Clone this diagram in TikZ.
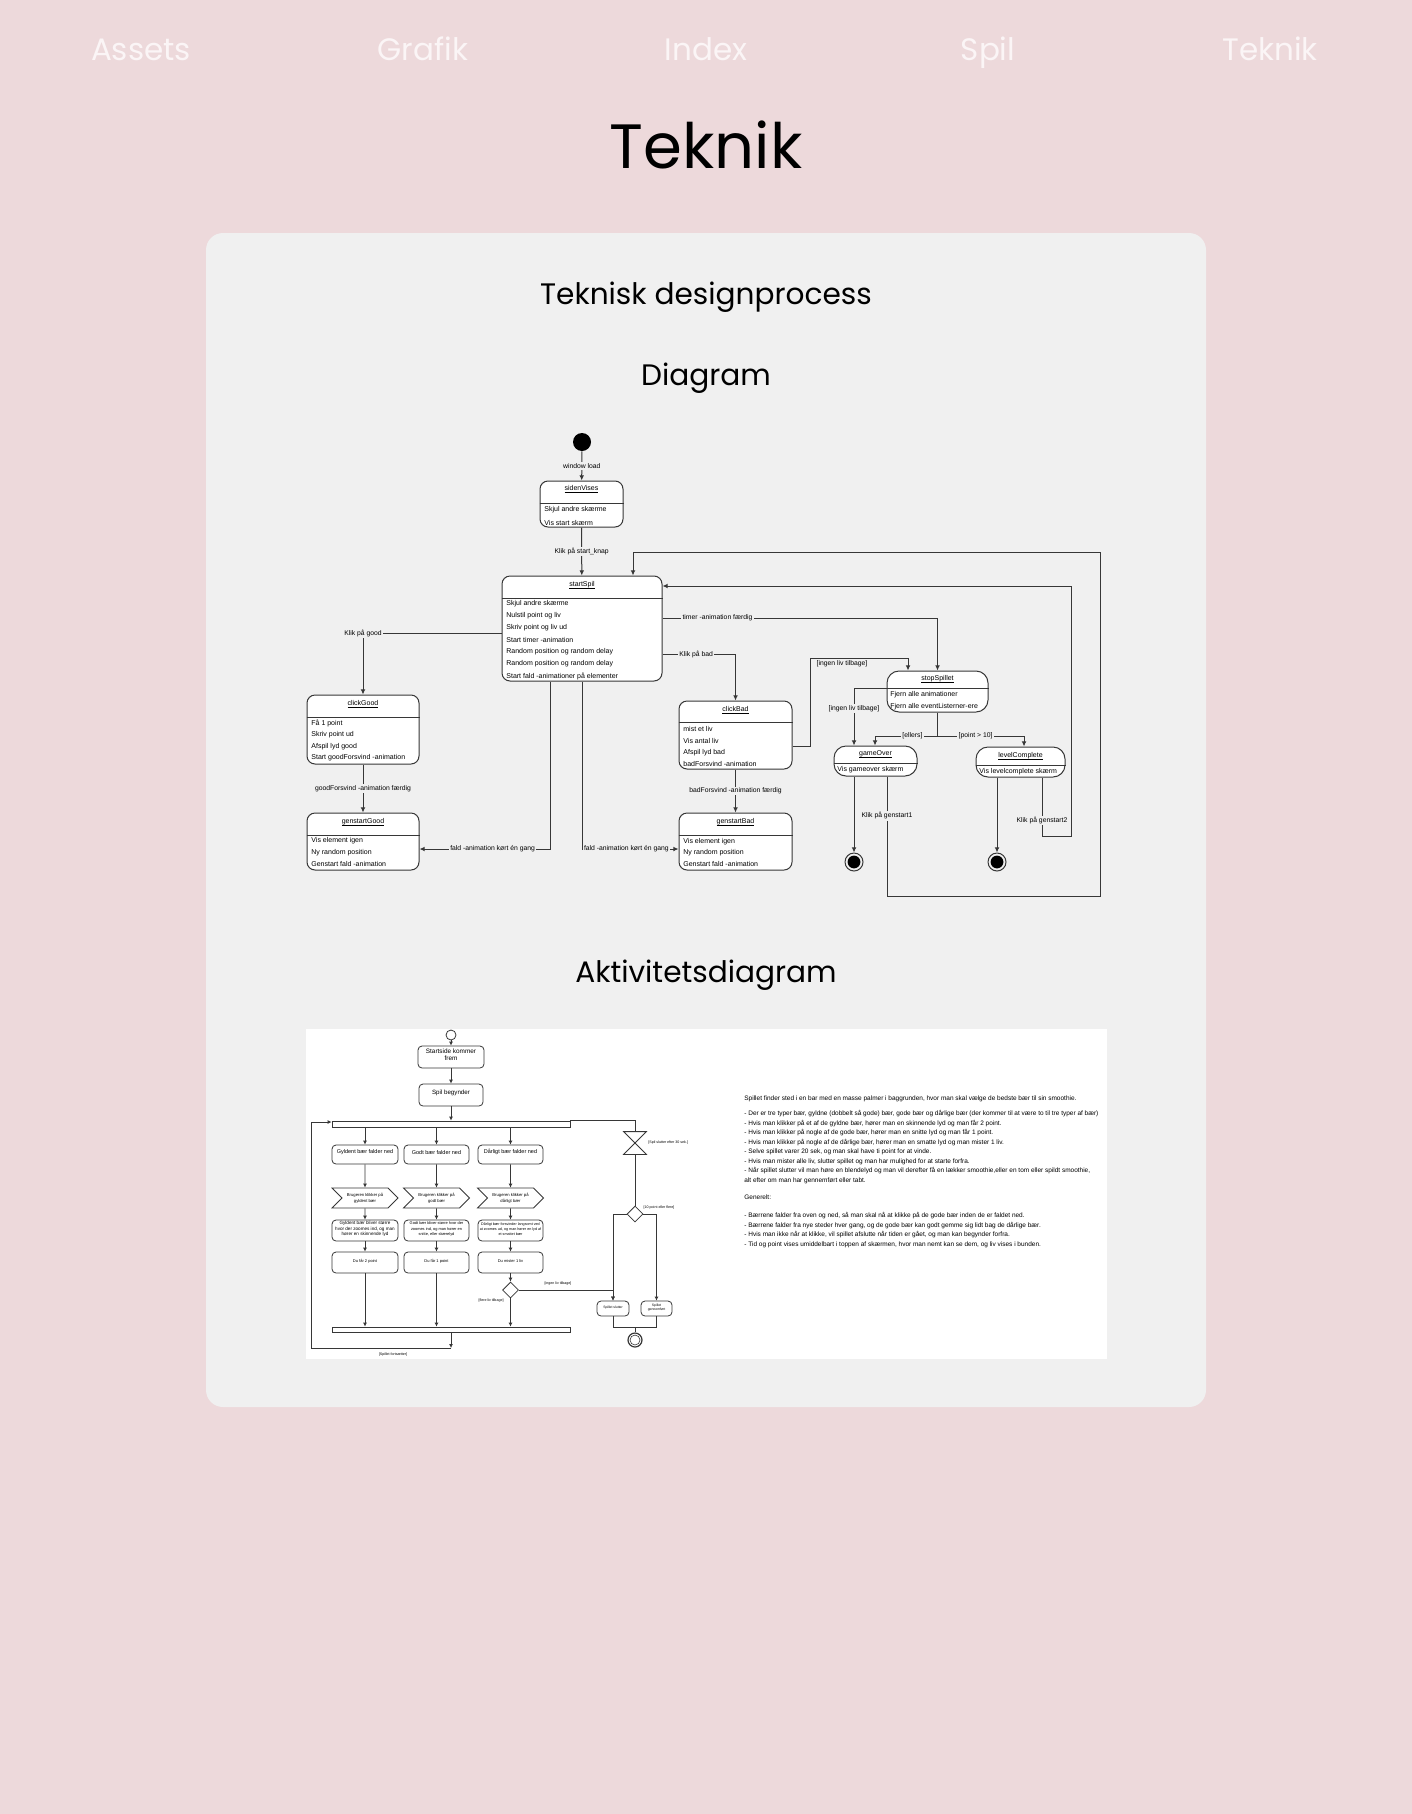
\documentclass[tikz,border=0pt]{standalone}
\usepackage{fontspec}
\setmainfont{Poppins}
\newfontfamily\umlfamily{Liberation Sans}
\usetikzlibrary{arrows.meta,fit,shapes.geometric,shapes.symbols,positioning}

\definecolor{pagebg}{RGB}{237,217,219}
\definecolor{cardbg}{RGB}{240,240,240}
\definecolor{navtext}{RGB}{251,245,246}
\definecolor{umlline}{RGB}{55,55,55}

\newcommand\ulin[1]{\setbox0=\hbox{#1}\rlap{\raisebox{-0.75pt}{\rule{\wd0}{0.22pt}}}\box0}

\tikzset{
  statebox/.style={draw=umlline, fill=white, rounded corners=4pt, inner sep=0pt, line width=0.5pt},
  roundbox/.style={statebox, rounded corners=6pt},
  stitle/.style={inner sep=0pt, font=\umlfamily\fontsize{3.5pt}{4pt}\selectfont},
  sline/.style={anchor=west, inner sep=0pt, font=\umlfamily\fontsize{3.5pt}{4pt}\selectfont},
  flow/.style={draw=umlline, line width=0.5pt, -{Latex[length=2.6pt,width=2.4pt]}},
  lbl/.style={fill=cardbg, inner sep=0.6pt, font=\umlfamily\fontsize{3.4pt}{4pt}\selectfont},
  abox/.style={draw=umlline, fill=white, rounded corners=2pt, inner sep=0pt, line width=0.4pt, align=center},
  aflow/.style={draw=umlline, line width=0.4pt, -{Latex[length=2pt,width=2pt]}},
  aline/.style={draw=umlline, line width=0.4pt},
  albl/.style={inner sep=0pt, font=\umlfamily\fontsize{1.8pt}{2.2pt}\selectfont},
  navitem/.style={anchor=base, text=navtext, font=\fontsize{15.5pt}{18pt}\selectfont},
  heading/.style={anchor=base, font=\fontsize{14.8pt}{18pt}\selectfont},
}

\begin{document}
\begin{tikzpicture}[x=0.5pt,y=-0.5pt]
  % page and card
  \fill[pagebg] (0,0) rectangle (1412,1814);
  \fill[cardbg, rounded corners=8.5pt] (206,233) rectangle (1206,1407);

  % menu
  \node[navitem] (navAssets) at (141,61) {Assets};
  \node[navitem] (navGrafik) at (423,61) {Grafik};
  \node[navitem] (navIndex) at (706,61) {Index};
  \node[navitem] (navSpil) at (988,61) {Spil};
  \node[navitem] (navTeknik) at (1270,61) {Teknik};

  \node[anchor=base, font=\fontsize{31.3pt}{36pt}\selectfont] (pageTitle) at (706,169) {Teknik};
  \node[heading] (hProcess) at (706,304) {Teknisk designprocess};
  \node[heading] (hDiagram) at (706,385) {Diagram};
  \node[heading] (hActivity) at (706,982) {Aktivitetsdiagram};

  % state diagram
  \node[circle, fill=black, minimum size=9pt, inner sep=0pt] (start) at (582,442) {};

  \node[statebox, fit={(540,481) (623,527)}] (sidenVises) {};
  \draw[umlline, line width=0.5pt] (sidenVises.west |- 0,503) -- (sidenVises.east |- 0,503);
  \node[stitle] (sidenVises-t) at (581.5,489) {\ulin{sidenVises}};
  \foreach \t [count=\i] in {Skjul andre skærme, Vis start skærm}
    \node[sline] (sidenVises-\i) at (544,{509.5+13*(\i-1)}) {\t};

  \node[statebox, fit={(502,576) (662,681)}] (startSpil) {};
  \draw[umlline, line width=0.5pt] (startSpil.west |- 0,598) -- (startSpil.east |- 0,598);
  \node[stitle] (startSpil-t) at (582,585) {\ulin{startSpil}};
  \foreach \t [count=\i] in {Skjul andre skærme, Nulstil point og liv, Skriv point og liv ud,
      Start timer -animation, Random position og random delay,
      Random position og random delay, Start fald -animationer på elementer}
    \node[sline] (startSpil-\i) at (506,{604+12*(\i-1)}) {\t};

  \node[statebox, fit={(307,695) (419,764)}] (clickGood) {};
  \draw[umlline, line width=0.5pt] (clickGood.west |- 0,717) -- (clickGood.east |- 0,717);
  \node[stitle] (clickGood-t) at (363,704) {\ulin{clickGood}};
  \foreach \t [count=\i] in {Få 1 point, Skriv point ud, Afspil lyd good, Start goodForsvind -animation}
    \node[sline] (clickGood-\i) at (311,{723+11.7*(\i-1)}) {\t};

  \node[statebox, fit={(307,813) (419,870)}] (genstartGood) {};
  \draw[umlline, line width=0.5pt] (genstartGood.west |- 0,835) -- (genstartGood.east |- 0,835);
  \node[stitle] (genstartGood-t) at (363,822) {\ulin{genstartGood}};
  \foreach \t [count=\i] in {Vis element igen, Ny random position, Genstart fald -animation}
    \node[sline] (genstartGood-\i) at (311,{841+11.5*(\i-1)}) {\t};

  \node[statebox, fit={(679,701) (792,769)}] (clickBad) {};
  \draw[umlline, line width=0.5pt] (clickBad.west |- 0,722) -- (clickBad.east |- 0,722);
  \node[stitle] (clickBad-t) at (735.5,710) {\ulin{clickBad}};
  \foreach \t [count=\i] in {mist et liv, Vis antal liv, Afspil lyd bad, badForsvind -animation}
    \node[sline] (clickBad-\i) at (683,{729+11.7*(\i-1)}) {\t};

  \node[statebox, fit={(679,813) (792,870)}] (genstartBad) {};
  \draw[umlline, line width=0.5pt] (genstartBad.west |- 0,835) -- (genstartBad.east |- 0,835);
  \node[stitle] (genstartBad-t) at (735.5,822) {\ulin{genstartBad}};
  \foreach \t [count=\i] in {Vis element igen, Ny random position, Genstart fald -animation}
    \node[sline] (genstartBad-\i) at (683,{842+11*(\i-1)}) {\t};

  \node[roundbox, fit={(887,671) (988,712)}] (stopSpillet) {};
  \draw[umlline, line width=0.5pt] (stopSpillet.west |- 0,688) -- (stopSpillet.east |- 0,688);
  \node[stitle] (stopSpillet-t) at (937.5,679) {\ulin{stopSpillet}};
  \foreach \t [count=\i] in {Fjern alle animationer, Fjern alle eventListerner-ere}
    \node[sline] (stopSpillet-\i) at (890,{694.5+12*(\i-1)}) {\t};

  \node[roundbox, fit={(834,746) (917,776)}] (gameOver) {};
  \draw[umlline, line width=0.5pt] (gameOver.west |- 0,763) -- (gameOver.east |- 0,763);
  \node[stitle] (gameOver-t) at (875.5,754) {\ulin{gameOver}};
  \node[sline] (gameOver-1) at (837,770) {Vis gameover skærm};

  \node[roundbox, fit={(976,747) (1065,777)}] (levelComplete) {};
  \draw[umlline, line width=0.5pt] (levelComplete.west |- 0,765) -- (levelComplete.east |- 0,765);
  \node[stitle] (levelComplete-t) at (1020.5,756) {\ulin{levelComplete}};
  \node[sline] (levelComplete-1) at (979,772) {Vis levelcomplete skærm};

  \node[circle, draw=umlline, line width=0.5pt, minimum size=9pt, inner sep=0pt] (endA) at (854,862) {};
  \node[circle, fill=black, minimum size=6.4pt, inner sep=0pt] (endA-in) at (endA) {};
  \node[circle, draw=umlline, line width=0.5pt, minimum size=9pt, inner sep=0pt] (endB) at (997,862) {};
  \node[circle, fill=black, minimum size=6.4pt, inner sep=0pt] (endB-in) at (endB) {};

  % transitions
  \draw[flow] (start) -- node[lbl] {window load} (sidenVises);
  \draw[flow] (sidenVises) -- node[lbl] {Klik på start\_knap} (startSpil);
  \draw[flow] (startSpil.west |- 0,633) -| node[lbl] {Klik på good} (clickGood.north);
  \draw[flow] (startSpil.east |- 0,618) -| node[lbl, pos=0.1] {timer -animation færdig} (stopSpillet.north);
  \draw[flow] (startSpil.east |- 0,654) -| node[lbl, pos=0.23] {Klik på bad} (clickBad.north);
  \draw[flow] (clickGood) -- node[lbl] {goodForsvind -animation færdig} (genstartGood);
  \draw[flow] (clickBad) -- node[lbl] {badForsvind -animation færdig} (genstartBad);
  \draw[flow] (startSpil.south -| 550,0) |- node[lbl, pos=0.72] {fald -animation kørt én gang} (genstartGood.east |- 0,849);
  \draw[flow] (startSpil.south -| 582,0) |- node[lbl, pos=0.73] {fald -animation kørt én gang} (genstartBad.west |- 0,849);
  \draw[flow] (clickBad.east |- 0,746) -| (810,658) -| (stopSpillet.north -| 908,0);
  \node[lbl, fill=none] (noLivesA) at (842,664) {[ingen liv tilbage]};
  \draw[flow] (stopSpillet.west |- 0,688) -| node[lbl, pos=0.68] {[ingen liv tilbage]} (gameOver.north -| 854,0);
  \draw[flow] (stopSpillet.south) -- (stopSpillet.south |- 0,736) -| node[lbl, pos=0.2] {[ellers]} (gameOver.north -| 875,0);
  \draw[flow] (stopSpillet.south) -- (stopSpillet.south |- 0,736) -| node[lbl, pos=0.22] {[point > 10]} (levelComplete.north -| 1024,0);
  \draw[flow] (gameOver.south -| endA) -- (endA);
  \draw[flow] (levelComplete.south -| endB) -- (endB);
  \draw[flow] (gameOver.south -| 887,0) -- node[lbl, pos=0.33] {Klik på genstart1} (887,896) -| (1100,552) -| (startSpil.north -| 633,0);
  \draw[flow] (levelComplete.south -| 1042,0) -- node[lbl, pos=0.73] {Klik på genstart2} (1042,836) -| (1071,586) -- (startSpil.east |- 0,586);

  % activity diagram
  \fill[white] (306,1029) rectangle (1107,1359);
  \node[circle, draw=umlline, line width=0.4pt, fill=white, minimum size=5pt, inner sep=0pt] (aStart) at (451,1035) {};
  \node[abox, fit={(418,1046) (484,1068)}, font=\umlfamily\fontsize{3.2pt}{3.9pt}\selectfont] (aFront) {Startside kommer\\frem};
  \node[abox, fit={(419,1084) (483,1106)}, font=\umlfamily\fontsize{3.1pt}{3.8pt}\selectfont] (aBegin) {Spil begynder};
  \node[abox, rounded corners=0pt, fit={(332,1121) (570,1127)}] (forkBar) {};
  \node[abox, rounded corners=0pt, fit={(332,1327) (570,1332)}] (joinBar) {};

  \node[abox, fit={(332,1145) (398,1164)}, font=\umlfamily\fontsize{2.75pt}{3.2pt}\selectfont] (fall1) {Gyldent bær falder ned};
  \node[abox, fit={(404,1145) (469,1164)}, font=\umlfamily\fontsize{2.75pt}{3.2pt}\selectfont] (fall2) {Godt bær falder ned};
  \node[abox, fit={(478,1145) (543,1164)}, font=\umlfamily\fontsize{2.75pt}{3.2pt}\selectfont] (fall3) {Dårligt bær falder ned};

  \node[signal, signal from=west, signal to=east, draw=umlline, line width=0.4pt, fill=white,
        minimum width=33pt, minimum height=10pt, inner sep=0pt, align=center,
        font=\umlfamily\fontsize{2.1pt}{3pt}\selectfont] (click1) at (365,1198) {Brugeren klikker på\\gyldent bær};
  \node[signal, signal from=west, signal to=east, draw=umlline, line width=0.4pt, fill=white,
        minimum width=33pt, minimum height=10pt, inner sep=0pt, align=center,
        font=\umlfamily\fontsize{2.1pt}{3pt}\selectfont] (click2) at (436.5,1198) {Brugeren klikker på\\godt bær};
  \node[signal, signal from=west, signal to=east, draw=umlline, line width=0.4pt, fill=white,
        minimum width=33pt, minimum height=10pt, inner sep=0pt, align=center,
        font=\umlfamily\fontsize{2.1pt}{3pt}\selectfont] (click3) at (510.5,1198) {Brugeren klikker på\\dårligt bær};

  \node[abox, fit={(332,1220) (398,1241)}, font=\umlfamily\fontsize{2.3pt}{2.8pt}\selectfont] (react1) {Gyldent bær bliver større\\hvor der zoomes ind, og man\\hører en skinnende lyd};
  \node[abox, fit={(404,1220) (469,1241)}, font=\umlfamily\fontsize{1.95pt}{2.6pt}\selectfont] (react2) {Godt bær bliver større hvor der\\zoomes ind, og man hører en\\snitte, eller skærelyd};
  \node[abox, fit={(478,1220) (543,1241)}, font=\umlfamily\fontsize{1.85pt}{2.6pt}\selectfont] (react3) {Dårligt bær forsvinder langsomt ved\\at zoomes ud, og man hører en lyd af\\et smattet bær};

  \node[abox, fit={(332,1252) (398,1273)}, font=\umlfamily\fontsize{2pt}{2.4pt}\selectfont] (gain1) {Du får 2 point};
  \node[abox, fit={(404,1252) (469,1273)}, font=\umlfamily\fontsize{2pt}{2.4pt}\selectfont] (gain2) {Du får 1 point};
  \node[abox, fit={(478,1252) (543,1273)}, font=\umlfamily\fontsize{2pt}{2.4pt}\selectfont] (lose1) {Du mister 1 liv};

  \node[diamond, draw=umlline, line width=0.4pt, fill=white, minimum size=8pt, inner sep=0pt] (aDec1) at (510.5,1290) {};

  \node[inner sep=0pt, minimum size=11pt] (timer30) at (635,1143) {};
  \draw[aline, fill=white] (timer30.north west) -- (timer30.north east) -- (timer30.south west) -- (timer30.south east) -- cycle;
  \node[diamond, draw=umlline, line width=0.4pt, fill=white, minimum size=8pt, inner sep=0pt] (aDec2) at (635,1214) {};
  \node[abox, fit={(597,1301) (629,1316)}, font=\umlfamily\fontsize{1.7pt}{2.1pt}\selectfont] (aLose) {Spillet slutter};
  \node[abox, fit={(641,1301) (672,1316)}, font=\umlfamily\fontsize{1.7pt}{2.1pt}\selectfont] (aWin) {Spillet\\gennemført};
  \node[circle, draw=umlline, line width=0.6pt, fill=white, minimum size=7pt, inner sep=0pt] (aEnd) at (635,1340) {};
  \node[circle, draw=umlline, line width=0.3pt, minimum size=5pt, inner sep=0pt] (aEnd-in) at (aEnd) {};
  \coordinate (loopPt) at (451,1348);

  \draw[aflow] (aStart) -- (aFront);
  \draw[aflow] (aFront) -- (aBegin);
  \draw[aflow] (aBegin) -- (forkBar.north -| aBegin);
  \foreach \c in {1,2,3} {
    \draw[aflow] (forkBar.south -| fall\c) -- (fall\c);
    \draw[aflow] (fall\c) -- (click\c);
    \draw[aflow] (click\c) -- (react\c);
  }
  \draw[aflow] (react1) -- (gain1);
  \draw[aflow] (react2) -- (gain2);
  \draw[aflow] (react3) -- (lose1);
  \draw[aflow] (gain1) -- (joinBar.north -| gain1);
  \draw[aflow] (gain2) -- (joinBar.north -| gain2);
  \draw[aflow] (lose1) -- (aDec1);
  \draw[aflow] (aDec1) -- (joinBar.north -| aDec1);
  \draw[aflow] (aDec1.east) -| (aLose.north);
  \draw[aflow] (joinBar.south -| loopPt) -- (loopPt);
  \draw[aflow] (loopPt) -| (311,1122) -- (forkBar.west |- 0,1122);
  \draw[aline] (forkBar.north east) -| (timer30.north);
  \draw[aline] (timer30.south) -- (aDec2);
  \draw[aflow] (aDec2.west) -| (aLose.north);
  \draw[aflow] (aDec2.east) -| (aWin.north);
  \draw[aline] (aLose.south) |- (aWin.south |- 0,1327) -- (aWin.south);
  \draw[aline] (aEnd.north |- 0,1327) -- (aEnd);

  \node[albl] (lblMore) at (491,1301) {[flere liv tilbage]};
  \node[albl] (lblNone) at (558,1284) {[ingen liv tilbage]};
  \node[albl] (lblGoOn) at (393,1355) {[Spillet fortsætter]};
  \node[albl] (lblTen) at (659,1208) {[10 point eller flere]};
  \node[albl, anchor=west] (lblTime) at (648,1143) {[Spil slutter efter 30 sek.]};

  \node[anchor=north west, align=left, inner sep=0pt, font=\umlfamily\fontsize{3.24pt}{4.75pt}\selectfont] (desc) at (744,1095) {%
    Spillet finder sted i en bar med en masse palmer i baggrunden, hvor man skal vælge de bedste bær til sin smoothie.\\[3.1pt]
    - Der er tre typer bær, gyldne (dobbelt så gode) bær, gode bær og dårlige bær (der kommer til at være to til tre typer af bær)\\
    - Hvis man klikker på et af de gyldne bær, hører man en skinnende lyd og man får 2 point.\\
    - Hvis man klikker på nogle af de gode bær, hører man en snitte lyd og man får 1 point.\\
    - Hvis man klikker på nogle af de dårlige bær, hører man en smatte lyd og man mister 1 liv.\\
    - Selve spillet varer 20 sek, og man skal have ti point for at vinde.\\
    - Hvis man mister alle liv, slutter spillet og man har mulighed for at starte forfra.\\
    - Når spillet slutter vil man høre en blendelyd og man vil derefter få en lækker smoothie,eller en tom eller spildt smoothie,\\
    alt efter om man har gennemført eller tabt.\\[3.6pt]
    Generelt:\\[4.6pt]
    - Bærrene falder fra oven og ned, så man skal nå at klikke på de gode bær inden de er faldet ned.\\
    - Bærrene falder fra nye steder hver gang, og de gode bær kan godt gemme sig lidt bag de dårlige bær.\\
    - Hvis man ikke når at klikke, vil spillet afslutte når tiden er gået, og man kan begynder forfra.\\
    - Tid og point vises umiddelbart i toppen af skærmen, hvor man nemt kan se dem, og liv vises i bunden.};
\end{tikzpicture}
\end{document}
